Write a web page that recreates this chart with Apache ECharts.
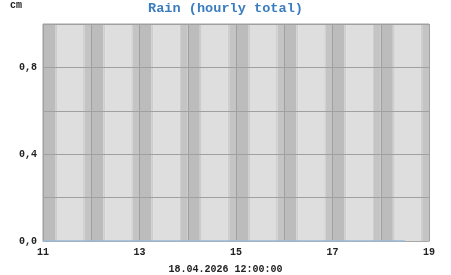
<!DOCTYPE html>
<html><head><meta charset="utf-8">
<script src="https://cdn.jsdelivr.net/npm/echarts@6/dist/echarts.min.js"></script>
<style>html,body{margin:0;padding:0;background:#fff}#c{width:451px;height:275px}</style>
</head><body><div id="c"></div>
<script>
var title = 'Rain (hourly total)';
var unitLabel = 'cm';
var timeLabel = '18.04.2026 12:00:00';
var hours = [11, 12, 13, 14, 15, 16, 17, 18];
var rainTimes = [11, 12, 13, 14, 15, 16, 17, 18, 18.5];
var rainValues = [0, 0, 0, 0, 0, 0, 0, 0, 0];
var xLabelHours = [11, 13, 15, 17, 19];
var yLabelValues = [0, 0.4, 0.8];

var chart = echarts.init(document.getElementById('c'), null, {renderer: 'canvas'});
var mono = 'Liberation Mono';
var bandData = hours.map(function (h) { return [h]; });

function renderBand(params, api) {
  var h = api.value(0);
  var cs = params.coordSys;
  var x0 = api.coord([h, 0])[0];
  var x1 = api.coord([h + 1, 0])[0];
  var w = x1 - x0;
  function rect(a, b, color) {
    return {type: 'rect', shape: {x: x0 + a * w, y: cs.y, width: (b - a) * w, height: cs.height},
      style: {fill: color}, silent: true};
  }
  return {type: 'group', children: [
    rect(0, 0.25, '#bcbcbc'),
    rect(0.25, 0.29, '#cdcdcd'),
    rect(0.29, 0.83, '#dedede'),
    rect(0.83, 0.86, '#cecece'),
    rect(0.86, 1, '#c4c4c4')
  ]};
}

chart.setOption({
  animation: false,
  backgroundColor: '#ffffff',
  title: {text: title, left: 'center', top: -3,
    textStyle: {fontFamily: mono, fontSize: 13.6, fontWeight: 'bold', color: '#3a7cc0'}},
  graphic: [
    {type: 'text', left: 10, top: 0, style: {text: unitLabel, font: 'bold 10px "Liberation Mono"', fill: '#222'}},
    {type: 'text', left: 'center', top: 264, style: {text: timeLabel, font: 'bold 10px "Liberation Mono"', fill: '#222'}}
  ],
  grid: {left: 43, right: 22, top: 24, bottom: 34, show: true, borderColor: '#a0a0a0', borderWidth: 1},
  xAxis: {type: 'value', min: 11, max: 19, interval: 1, z: 5,
    axisLine: {show: true, lineStyle: {color: '#a8a8a8', width: 1}},
    axisTick: {show: false},
    splitLine: {show: true, lineStyle: {color: '#a0a0a0', width: 1}},
    axisLabel: {fontFamily: mono, fontWeight: 'bold', fontSize: 10, color: '#222', margin: 6,
      formatter: function (v) { return xLabelHours.indexOf(v) >= 0 ? String(v) : ''; }}
  },
  yAxis: {type: 'value', min: 0, max: 1, interval: 0.2, z: 5,
    axisLine: {show: false}, axisTick: {show: false},
    splitLine: {show: true, lineStyle: {color: '#a0a0a0', width: 1}},
    axisLabel: {fontFamily: mono, fontWeight: 'bold', fontSize: 10, color: '#222', margin: 6,
      formatter: function (v) {
        var ok = yLabelValues.some(function (t) { return Math.abs(t - v) < 1e-6; });
        return ok ? v.toFixed(1).replace('.', ',') : '';
      }}
  },
  series: [
    {type: 'custom', z: 1, silent: true, renderItem: renderBand, data: bandData, clip: true},
    {type: 'line', z: 10, showSymbol: false, data: rainTimes.map(function (t, i) { return [t, rainValues[i]]; }),
      lineStyle: {color: '#9cbcd8', width: 1.5}, itemStyle: {color: '#9cbcd8'}}
  ]
});
</script></body></html>
